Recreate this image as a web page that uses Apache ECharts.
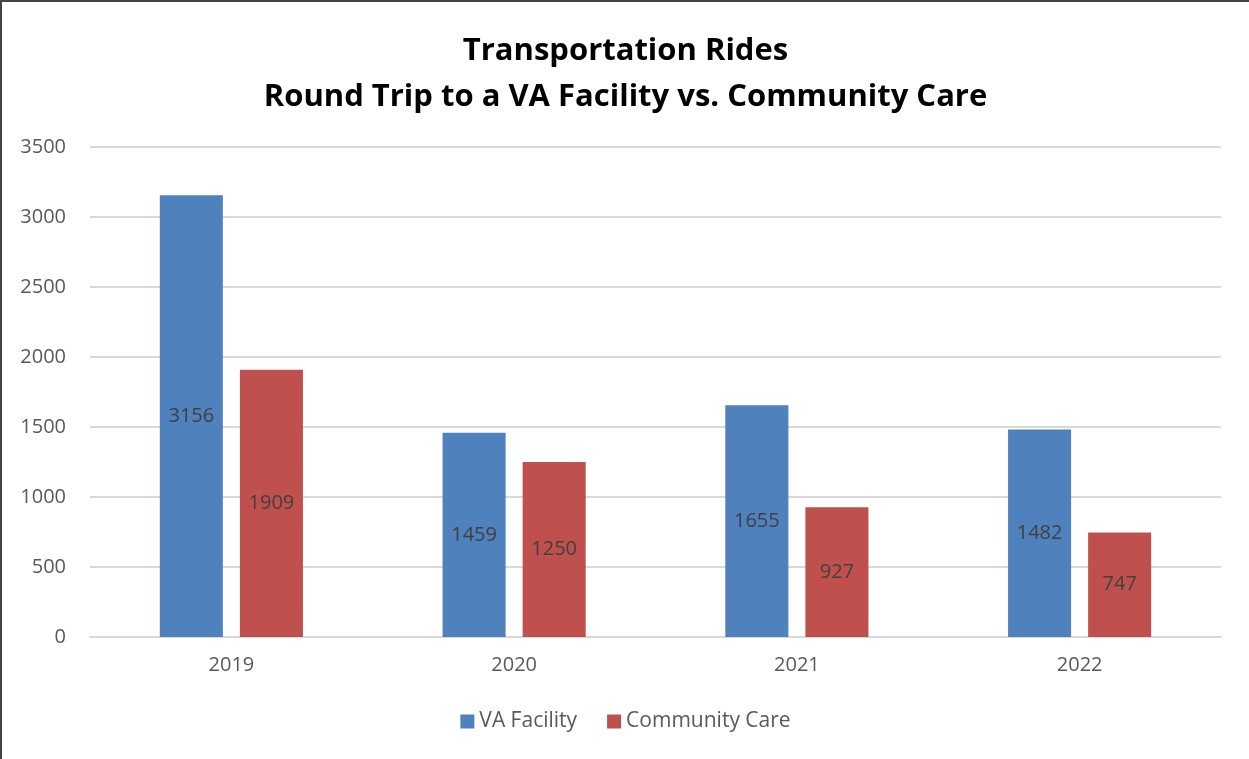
<!DOCTYPE html>
<html>
<head>
<meta charset="utf-8">
<script src="https://cdn.jsdelivr.net/npm/echarts@6/dist/echarts.min.js"></script>
<style>
    html, body { margin: 0; padding: 0; background: #fff; }
    #chart {
        width: 1249px;
        height: 759px;
        box-sizing: border-box;
        border-top: 2px solid #444;
        border-left: 2px solid #444;
    }
</style>
</head>
<body>
<div id="chart"></div>
<script>
// chart data
const years = ["2019", "2020", "2021", "2022"];
const vaFacility = [3156, 1459, 1655, 1482];
const communityCare = [1909, 1250, 927, 747];
const seriesNames = ["VA Facility", "Community Care"];

const fontFamily = "'Open Sans', 'Noto Sans', sans-serif";

const barLabel = {
    show: true,
    position: "inside",
    color: "#404040",
    fontSize: 20,
    fontFamily,
};

const chart = echarts.init(document.getElementById("chart"), null, { renderer: "canvas" });

chart.setOption({
    animation: false,
    title: {
        text: "Transportation Rides\nRound Trip to a VA Facility vs. Community Care",
        left: "center",
        top: 21,
        textStyle: {
            fontSize: 31,
            fontWeight: "bold",
            color: "#000",
            fontFamily,
            lineHeight: 46,
        },
    },
    legend: {
        bottom: 22,
        left: "center",
        itemWidth: 14,
        itemHeight: 14,
        itemGap: 30,
        icon: "rect",
        textStyle: { fontSize: 21, color: "#595959", fontFamily },
        data: seriesNames,
    },
    grid: {
        left: 88,
        right: 28,
        top: 145,
        bottom: 122,
        containLabel: false,
    },
    xAxis: {
        type: "category",
        data: years,
        axisLine: { lineStyle: { color: "#d9d9d9", width: 2 } },
        axisTick: { show: false },
        axisLabel: { fontSize: 20, color: "#595959", fontFamily, margin: 18 },
    },
    yAxis: {
        type: "value",
        min: 0,
        max: 3500,
        interval: 500,
        axisLine: { show: false },
        axisTick: { show: false },
        splitLine: { lineStyle: { color: "#d9d9d9", width: 2 } },
        axisLabel: {
            fontSize: 20,
            color: "#595959",
            fontFamily,
            margin: 24,
            formatter: (v) => String(v),
        },
    },
    series: [
        {
            name: seriesNames[0],
            type: "bar",
            data: vaFacility,
            barWidth: "22.3%",
            barGap: "27%",
            itemStyle: { color: "#4f81bd" },
            label: barLabel,
        },
        {
            name: seriesNames[1],
            type: "bar",
            data: communityCare,
            barWidth: "22.3%",
            itemStyle: { color: "#c0504d" },
            label: barLabel,
        },
    ],
});
</script>
</body>
</html>
